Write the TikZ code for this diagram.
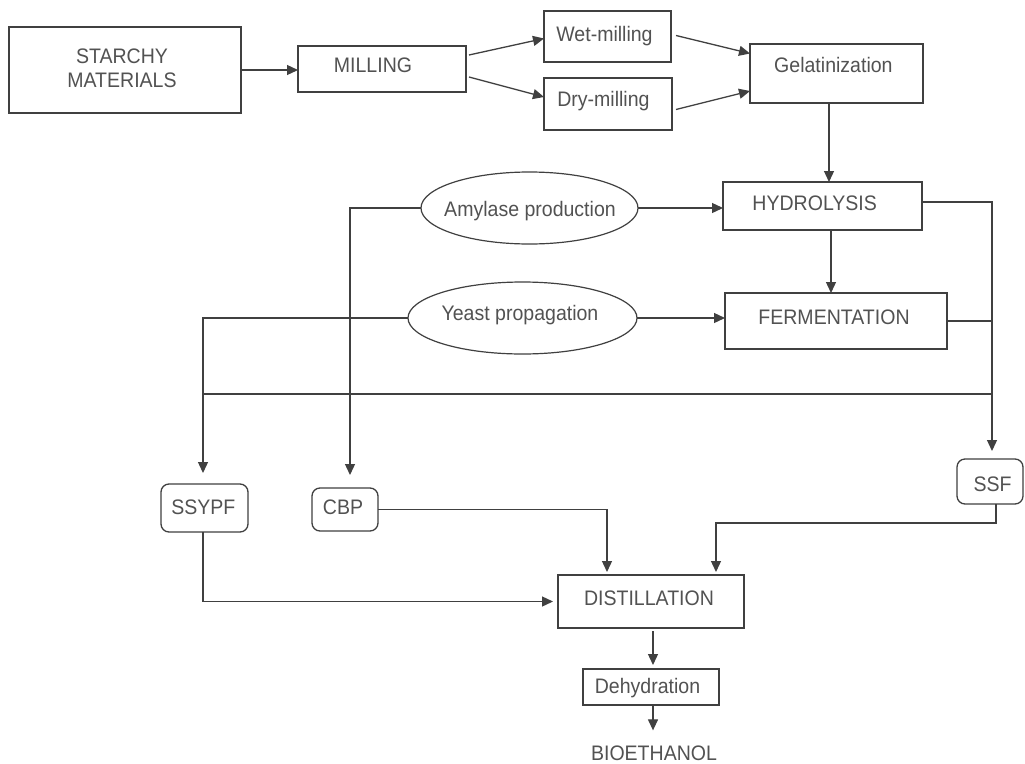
\documentclass[tikz,border=0pt]{standalone}
\usepackage{fontspec}
\setmainfont{Liberation Sans}[FakeStretch=0.93]
\usetikzlibrary{arrows.meta,shapes.geometric,calc}
\definecolor{linec}{RGB}{64,64,64}
\definecolor{textc}{RGB}{82,82,82}
\begin{document}
\begin{tikzpicture}[x=1pt,y=-1pt,
  box/.style={draw=linec,line width=1.3pt,rectangle,inner sep=0pt,outer sep=0pt},
  rbox/.style={box,rounded corners=8pt},
  oval/.style={draw=linec,line width=1.2pt,ellipse,inner sep=0pt,outer sep=0pt},
  lbl/.style={inner sep=0pt,outer sep=0pt,text=textc,font=\fontsize{21}{24}\selectfont,anchor=base},
  conn/.style={draw=linec,line width=1.3pt},
  arr/.style={conn,-{Triangle[length=11pt,width=10pt]}}]
\useasboundingbox[fill=white] (0,0) rectangle (1025,763);

% boxes
\node[box,minimum width=232pt,minimum height=86pt] (sm) at (125,70) {};
\node[box,minimum width=168pt,minimum height=46pt] (mill) at (382,69) {};
\node[box,minimum width=127pt,minimum height=51pt] (wet) at (607.5,36.5) {};
\node[box,minimum width=128pt,minimum height=52pt] (dry) at (608,104) {};
\node[box,minimum width=173pt,minimum height=59pt] (gel) at (836.5,73.5) {};
\node[box,minimum width=199pt,minimum height=48pt] (hyd) at (822.5,206) {};
\node[box,minimum width=222pt,minimum height=56pt] (fer) at (836,321) {};
\node[oval,minimum width=217pt,minimum height=72pt] (amy) at (529.5,208) {};
\node[oval,minimum width=229pt,minimum height=72pt] (yea) at (522.5,318) {};
\node[rbox,minimum width=87pt,minimum height=48pt] (ssypf) at (204.5,508) {};
\node[rbox,minimum width=66pt,minimum height=43pt] (cbp) at (345,509.5) {};
\node[rbox,minimum width=66pt,minimum height=45pt] (ssf) at (990,481.5) {};
\node[box,minimum width=186pt,minimum height=53pt] (dis) at (651,601.5) {};
\node[box,minimum width=136pt,minimum height=36pt] (deh) at (651,687) {};

% texts
\node[lbl,anchor=north,align=center] (smt) at (122,49) {STARCHY\\MATERIALS};
\node[lbl] (millt) at (373,72.3) {MILLING};
\node[lbl] (wett) at (604.5,41.8) {Wet-milling};
\node[lbl] (dryt) at (603.4,106.5) {Dry-milling};
\node[lbl] (gelt) at (833.4,72.3) {Gelatinization};
\node[lbl] (hydt) at (814.7,210) {HYDROLYSIS};
\node[lbl] (fert) at (834,324.3) {FERMENTATION};
\node[lbl] (amyt) at (530,216) {Amylase production};
\node[lbl] (yeat) at (520,320) {Yeast propagation};
\node[lbl] (ssypft) at (203.3,514) {SSYPF};
\node[lbl] (cbpt) at (343,514) {CBP};
\node[lbl] (ssft) at (992.5,491) {SSF};
\node[lbl] (dist) at (649,605) {DISTILLATION};
\node[lbl] (deht) at (647.5,693.3) {Dehydration};
\node[lbl] (bio) at (654,760) {BIOETHANOL};

% junction points
\coordinate (jr) at (992,394);
\coordinate (jl) at (203,394);

% connectors
\draw[arr] (sm.east) -- (sm.east -| mill.west);
\draw[arr] ($(mill.east)+(3,-14)$) -- ($(wet.west)+(0,2)$);
\draw[arr] ($(mill.east)+(3,8)$) -- ($(dry.west)+(0,-7)$);
\draw[arr] ($(wet.east)+(5,-1)$) -- ($(gel.west)+(0,-20)$);
\draw[arr] ($(dry.east)+(4,5.5)$) -- ($(gel.west)+(0,17.5)$);
\draw[arr] ($(gel.south)+(-7.5,0)$) -- ($(hyd.north)+(6.5,0)$);
\draw[arr] (amy.east) -- (amy.east -| hyd.west);
\draw[arr] (yea.east) -- (yea.east -| fer.west);
\draw[arr] ($(hyd.south)+(8.5,0)$) -- ($(fer.north)+(-5,0)$);
\draw[conn] ($(hyd.east)+(0,-4)$) -| (jr);
\draw[conn] (fer.east) -- (fer.east -| jr);
\draw[conn] (jl) -- (jr);
\draw[arr] (jr) -- ($(ssf.north)+(2,-8)$);
\draw[arr] (yea.west) -| ($(ssypf.north)+(-1.5,-11)$);
\draw[arr] (amy.west) -| ($(cbp.north)+(5,-13)$);
\draw[arr] (cbp.east) -| ($(dis.north)+(-44,-3)$);
\draw[arr] ($(ssf.south)+(6,0)$) -- ++(0,19) -| ($(dis.north)+(65,-3)$);
\draw[arr] ($(ssypf.south)+(-1.5,0)$) |- ($(dis.west)+(-5,0)$);
\draw[arr] ($(dis.south)+(2,3)$) -- ($(deh.north)+(2,-4)$);
\draw[arr] ($(deh.south)+(2,0)$) -- ($(bio.north)+(-1,-15)$);
\end{tikzpicture}
\end{document}
